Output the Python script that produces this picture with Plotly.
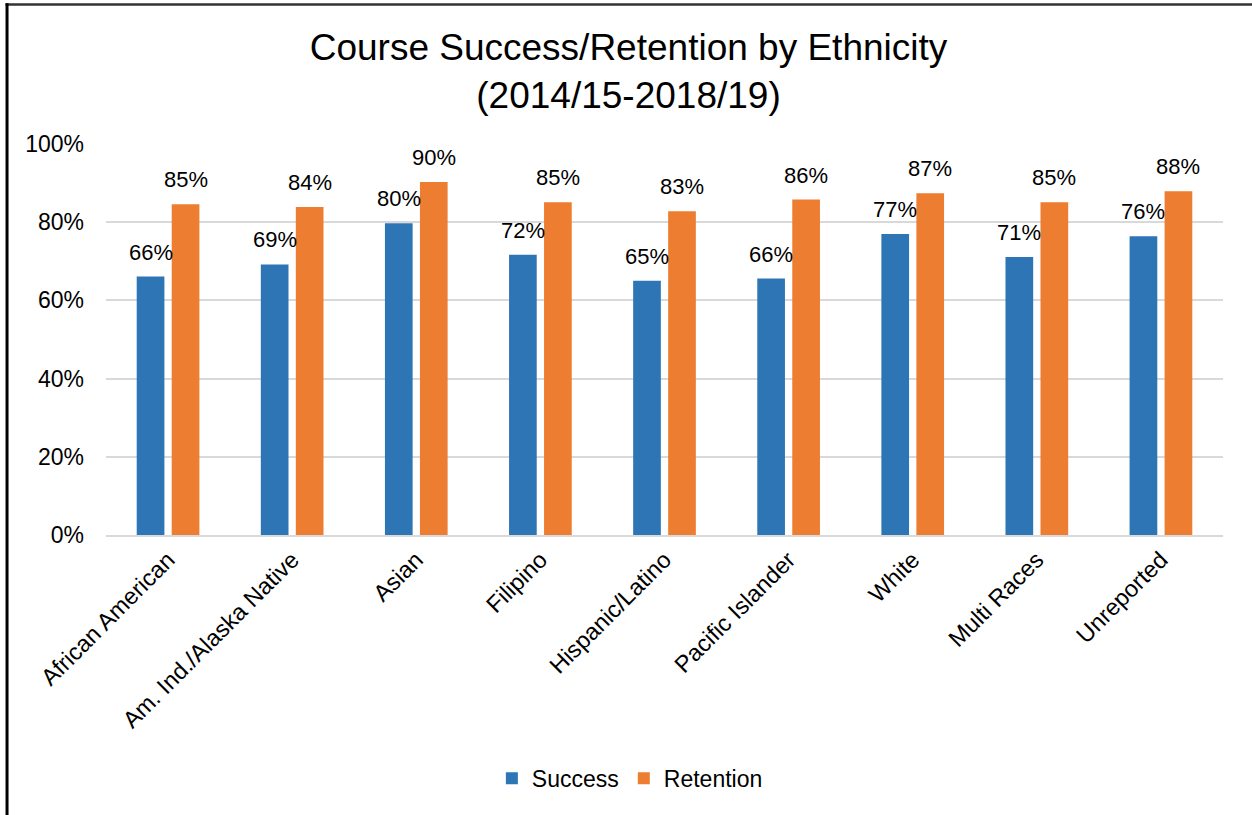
import plotly.graph_objects as go

categories = ["African American", "Am. Ind./Alaska Native", "Asian", "Filipino",
              "Hispanic/Latino", "Pacific Islander", "White", "Multi Races", "Unreported"]
success = [0.661, 0.692, 0.797, 0.717, 0.650, 0.656, 0.770, 0.711, 0.764]
retention = [0.846, 0.839, 0.903, 0.851, 0.828, 0.858, 0.874, 0.851, 0.879]
y_ticks = [0, 0.2, 0.4, 0.6, 0.8, 1.0]
y_tick_labels = ["0%", "20%", "40%", "60%", "80%", "100%"]

FONT = "Arial, Liberation Sans, sans-serif"

fig = go.Figure()
series = [("Success", success, "#2E75B6", -17.5), ("Retention", retention, "#ED7D31", 17.5)]
for name, vals, color, dx in series:
    fig.add_trace(go.Bar(x=categories, y=vals, name=name,
                         marker=dict(color=color, line=dict(width=0)),
                         cliponaxis=False))
    # data labels above each bar, anchored to the bar's value on the axes
    for cat, v in zip(categories, vals):
        fig.add_annotation(x=cat, y=v, xref="x", yref="y", text=f"{v:.0%}",
                           showarrow=False, xanchor="center", yanchor="bottom",
                           xshift=dx, yshift=10,
                           font=dict(family=FONT, size=22, color="#000000"))

fig.update_layout(
    width=1252, height=815,
    margin=dict(l=106, r=29, t=144, b=280),
    paper_bgcolor="white", plot_bgcolor="white",
    font=dict(family=FONT, color="#000000"),
    barmode="group", bargap=0.436, bargroupgap=0.209,
    title=dict(text="Course Success/Retention by Ethnicity<br>(2014/15-2018/19)",
               x=0.502, xanchor="center", xref="container",
               y=0.926, yanchor="middle", yref="container",
               font=dict(family=FONT, size=37, color="#000000")),
    legend=dict(orientation="h", x=0.469, xanchor="center", y=-0.622, yanchor="middle",
                font=dict(family=FONT, size=23, color="#000000"),
                itemwidth=30, traceorder="normal"),
)
fig.update_yaxes(range=[0, 1.0], tickvals=y_ticks, ticktext=y_tick_labels,
                 showgrid=True, gridcolor="#D9D9D9", gridwidth=1.5,
                 zeroline=False, showline=False, ticks="", ticklabelstandoff=21,
                 tickfont=dict(family=FONT, size=23, color="#000000"))
fig.update_xaxes(tickangle=-45, showline=True, linecolor="#D9D9D9", linewidth=1.5,
                 ticks="", tickfont=dict(family=FONT, size=23.5, color="#000000"))

# outer frame (top and left edges visible in the reference)
fig.add_shape(type="line", xref="paper", yref="paper", x0=-0.09, x1=1.1, y0=1.357, y1=1.357,
              line=dict(color="#333333", width=2.5))
fig.add_shape(type="line", xref="paper", yref="paper", x0=-0.0886, x1=-0.0886, y0=1.36, y1=-0.72,
              line=dict(color="#000000", width=3))

fig.write_html("out.html", config={"displayModeBar": False},
               post_script="document.body.style.margin='0';document.body.style.overflow='hidden';")
